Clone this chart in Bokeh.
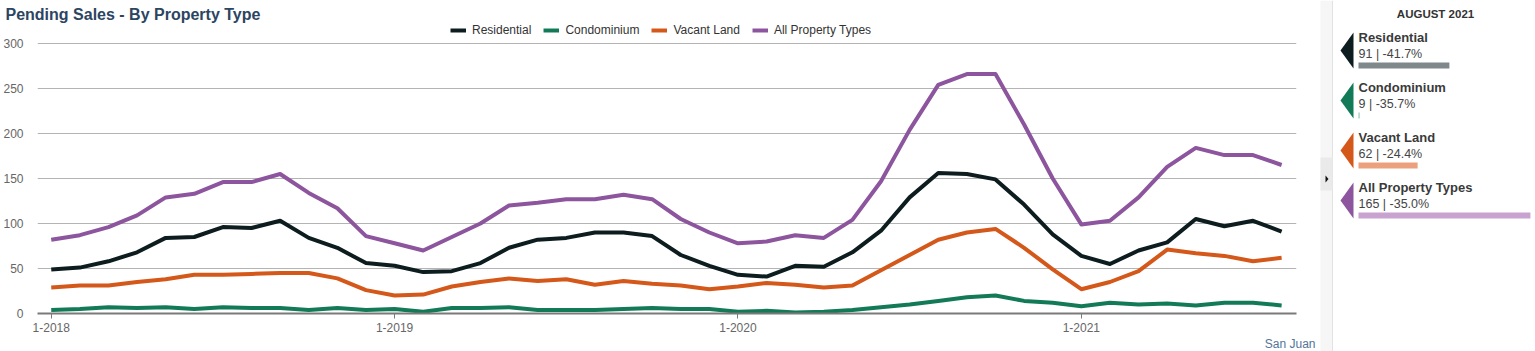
from bokeh.plotting import figure
from bokeh.models import Range1d, FixedTicker, Legend, LegendItem, Title
from bokeh.layouts import row
from bokeh.embed import file_html
from bokeh.resources import INLINE
from bokeh.core.properties import value

# ---------------- data ----------------
month_index = list(range(44))  # Jan 2018 .. Aug 2021
tick_positions = [0, 12, 24, 36]
tick_labels = ["1-2018", "1-2019", "1-2020", "1-2021"]
y_ticks = [0, 50, 100, 150, 200, 250, 300]

residential = [49, 51, 58, 68, 84, 85, 96, 95, 103, 84, 73, 56,
               53, 46, 47, 56, 73, 82, 84, 90, 90, 86, 65, 53,
               43, 41, 53, 52, 68, 92, 129, 156, 155, 149, 121, 88,
               64, 55, 70, 79, 105, 97, 103, 91]
condominium = [4, 5, 7, 6, 7, 5, 7, 6, 6, 4, 6, 4,
               5, 2, 6, 6, 7, 4, 4, 4, 5, 6, 5, 5,
               2, 3, 1, 2, 4, 7, 10, 14, 18, 20, 14, 12,
               8, 12, 10, 11, 9, 12, 12, 9]
vacant_land = [29, 31, 31, 35, 38, 43, 43, 44, 45, 45, 39, 26,
               20, 21, 30, 35, 39, 36, 38, 32, 36, 33, 31, 27,
               30, 34, 32, 29, 31, 48, 65, 82, 90, 94, 73, 49,
               27, 35, 47, 71, 67, 64, 58, 62]
all_types = [82, 87, 96, 109, 129, 133, 146, 146, 155, 134, 117, 86,
             78, 70, 85, 100, 120, 123, 127, 127, 132, 127, 105, 90,
             78, 80, 87, 84, 104, 147, 204, 254, 266, 266, 210, 150,
             99, 103, 129, 163, 184, 176, 176, 165]

series_names = ["Residential", "Condominium", "Vacant Land", "All Property Types"]
series_colors = ["#0d1c1e", "#137a58", "#d4581a", "#8c559e"]
bar_colors = ["#7f898b", "#8fc3aa", "#eba17e", "#c9a3d0"]

panel_period = "AUGUST 2021"
panel_values = [91, 9, 62, 165]
panel_changes = ["-41.7%", "-35.7%", "-24.4%", "-35.0%"]
bar_base = 8

FONT = "Liberation Sans"

# ---------------- main chart ----------------
p = figure(width=1318, height=351, output_backend="svg", toolbar_location=None,
           x_range=Range1d(-0.48, 43.52), y_range=Range1d(0, 323.33),
           min_border_left=37, min_border_right=22, min_border_top=22,
           min_border_bottom=38)
p.frame_align = False
p.title = Title(text="Pending Sales - By Property Type", align="left", offset=-32,
                standoff=0, text_font=FONT, text_font_size="16px",
                text_font_style="bold", text_color="#2c4561")
p.outline_line_color = None
p.background_fill_color = "white"
p.border_fill_color = "white"

p.xgrid.visible = False
p.ygrid.grid_line_color = "#b4b4b4"
p.ygrid.grid_line_width = 1

p.yaxis.ticker = FixedTicker(ticks=y_ticks)
p.yaxis.axis_line_color = None
p.yaxis.major_tick_line_color = None
p.yaxis.minor_tick_line_color = None
p.yaxis.major_label_standoff = 8
p.yaxis.major_label_text_font = FONT
p.yaxis.major_label_text_font_size = "12px"
p.yaxis.major_label_text_color = "#666666"

p.xaxis.ticker = FixedTicker(ticks=tick_positions)
p.xaxis.major_label_overrides = {t: l for t, l in zip(tick_positions, tick_labels)}
p.xaxis.axis_line_color = "#7a7a7a"
p.xaxis.axis_line_width = 2
p.xaxis.major_tick_line_color = "#7a7a7a"
p.xaxis.major_tick_in = 0
p.xaxis.major_tick_out = 5
p.xaxis.minor_tick_line_color = None
p.xaxis.major_label_standoff = 4
p.xaxis.major_label_text_font = FONT
p.xaxis.major_label_text_font_size = "12px"
p.xaxis.major_label_text_color = "#666666"

items = []
for name, ys, col in zip(series_names, [residential, condominium, vacant_land, all_types], series_colors):
    r = p.line(month_index, ys, line_color=col, line_width=4, line_join="round")
    items.append(LegendItem(label=name, renderers=[r]))

legend = Legend(items=items, orientation="horizontal", location=(413, 276),
                background_fill_alpha=0, border_line_color=None, padding=0, margin=0,
                spacing=12, glyph_width=16, glyph_height=14, label_standoff=6,
                label_height=14, label_text_font=FONT, label_text_font_size="12px",
                label_text_color="#333333")
p.add_layout(legend, "center")

p.add_layout(Title(text="San Juan", align="right", offset=-19, standoff=0,
                   text_font=FONT, text_font_size="12px", text_font_style="normal",
                   text_color="#54749a"), "below")

# ---------------- side panel ----------------
pw = 217
panel = figure(width=pw, height=351, output_backend="svg", toolbar_location=None,
               x_range=Range1d(bar_base - 40 / 1.095, bar_base + (pw - 40) / 1.095),
               y_range=Range1d(351, 0), min_border=0,
               x_axis_type=None, y_axis_type=None)
panel.frame_align = False
panel.title.visible = False
panel.extra_x_ranges = {"px": Range1d(0, pw)}
panel.outline_line_color = None
panel.grid.visible = False

panel.quad(left=[2], right=[14], top=[0], bottom=[351], x_range_name="px",
           fill_color="#f6f6f6", line_color=None)
panel.segment(x0=[14], x1=[14], y0=[0], y1=[351], x_range_name="px",
              line_color="#e2e2e2", line_width=1)
panel.quad(left=[2], right=[14], top=[157], bottom=[190], x_range_name="px",
           fill_color="#eaeaea", line_color=None)
panel.patch(x=[7, 10, 7], y=[175, 178.5, 182], x_range_name="px",
            fill_color="#111111", line_color=None)

panel.text(x=[117], y=[13], text=[panel_period], x_range_name="px",
           text_font=value(FONT), text_font_size="11.5px", text_font_style="bold",
           text_color="#333333", text_align="center", text_baseline="middle")

rows = list(range(len(series_names)))
panel.patches(xs=[[22, 35, 35] for _ in rows],
              ys=[[50 + 50 * i, 32 + 50 * i, 68 + 50 * i] for i in rows],
              x_range_name="px", fill_color=series_colors, line_color=None)
panel.text(x=[40] * 4, y=[37 + 50 * i for i in rows], text=series_names,
           x_range_name="px", text_font=value(FONT), text_font_size="13px",
           text_font_style="bold", text_color="#3a3a3a", text_baseline="middle")
panel.text(x=[40] * 4, y=[53 + 50 * i for i in rows],
           text=[f"{v} | {c}" for v, c in zip(panel_values, panel_changes)],
           x_range_name="px", text_font=value(FONT), text_font_size="12.5px",
           text_color="#444444", text_baseline="middle")
panel.hbar(y=[65 + 50 * i for i in rows], height=6, left=bar_base, right=panel_values,
           fill_color=bar_colors, line_color=None)

layout = row(p, panel)
open("out.html", "w").write(file_html(layout, INLINE))
